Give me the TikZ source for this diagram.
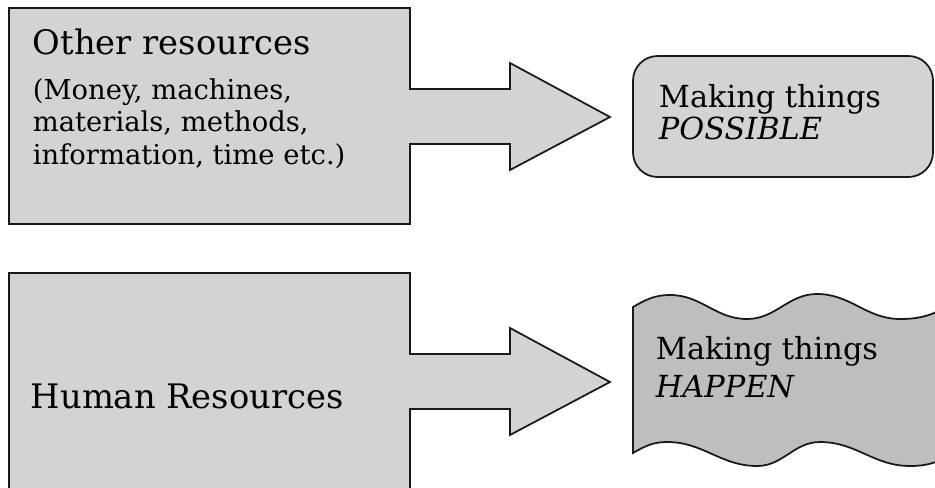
\documentclass[tikz,border=0pt]{standalone}
\usepackage{fontspec}
\setmainfont{DejaVu Serif}

\definecolor{boxgray}{HTML}{D3D3D3}
\definecolor{wavegray}{HTML}{BEBEBE}

\tikzset{
	shape fill/.style = {fill = boxgray, draw = black!90},
	wave fill/.style = {fill = wavegray, draw = black!90},
	big text/.style = {anchor = base west, inner sep = 0, font = \fontsize{19.2}{23}\selectfont},
	small text/.style = {anchor = base west, inner sep = 0, font = \fontsize{15.6}{18}\selectfont},
	result text/.style = {anchor = base west, inner sep = 0, font = \fontsize{17.3}{21}\selectfont}
}

\begin{document}
\begin{tikzpicture}[x = 0.02cm, y = 0.02cm, line width = 1pt]

\useasboundingbox (0, 0) rectangle (935, 487);
\clip (0, 0) rectangle (935, 487);

% boxes on the left, each with its arrow
\foreach \t/\b in {479/263, 214/-40} {
	\draw [shape fill] (9, \t) -- (410, \t) -- (410, \t - 81) -- (510, \t - 81) -- (510, \t - 55) -- (610, \t - 109)
		-- (510, \t - 162) -- (510, \t - 136) -- (410, \t - 136) -- (410, \b) -- (9, \b) -- cycle;
}

% results on the right
\draw [shape fill, rounded corners = 14] (633, 431) rectangle (933, 310);

\draw [wave fill] (633, 180) to [out = 30, in = 180] (670, 192) to [out = 0, in = 180] (747, 168)
	to [out = 0, in = 180] (817, 193) to [out = 0, in = 180] (900, 168) to [out = 0, in = 210] (950, 182)
	-- (950, 32) to [out = 210, in = 0] (910, 21) to [out = 180, in = 0] (820, 45)
	to [out = 180, in = 0] (757, 21) to [out = 180, in = 0] (667, 45) to [out = 180, in = 30] (633, 34) -- cycle;

\node [big text] (other) at (32, 432) {Other resources};
\node [small text] (money) at (32, 387) {(Money, machines,};
\node [small text] (materials) at (32, 355) {materials, methods,};
\node [small text] (information) at (32, 322) {information, time etc.)};

\node [big text] (human) at (30, 79) {Human Resources};

\node [result text] (possible1) at (658, 379) {Making things};
\node [result text] (possible2) at (658, 347) {\itshape POSSIBLE};

\node [result text] (happen1) at (655, 128) {Making things};
\node [result text] (happen2) at (655, 90) {\itshape HAPPEN};

\end{tikzpicture}
\end{document}
